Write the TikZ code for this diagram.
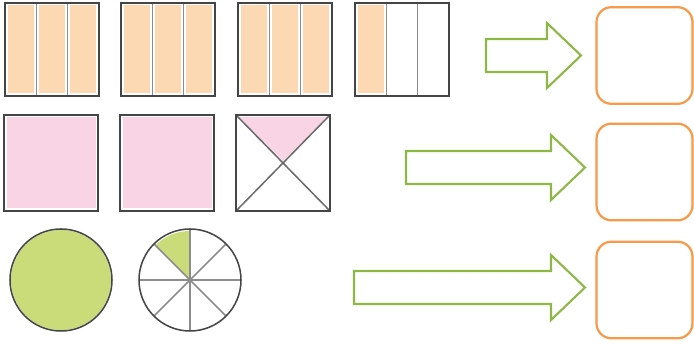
\documentclass[tikz,border=0pt]{standalone}
\usepackage{tikz}

\definecolor{peach}{HTML}{FCD9B2}
\definecolor{pinkfill}{HTML}{F8D4E4}
\definecolor{limefill}{HTML}{CADC7A}
\definecolor{arrowgreen}{HTML}{8DB845}
\definecolor{boxorange}{HTML}{F79A4A}
\definecolor{framegray}{HTML}{454545}
\definecolor{divgray}{HTML}{8C8C8C}

\begin{document}
\begin{tikzpicture}[x=0.03cm,y=-0.03cm,
  outline/.style={draw=framegray,line width=1.9pt},
  divline/.style={draw=divgray,line width=1.3pt},
  blockarrow/.style={draw=arrowgreen,line width=1.8pt,line join=miter},
  answerbox/.style={draw=boxorange,line width=1.9pt,rounded corners=0.45cm,minimum width=2.88cm,minimum height=2.9cm,inner sep=0pt}]
\useasboundingbox (0,0) rectangle (694,345);

% row 1: thirds
\foreach \x/\n in {5/3,121/3,238/3,355/1} {
  \foreach \k in {1,...,\n} {\fill[peach] ({\x+(\k-1)*31.3+2.5},5.5) rectangle ({\x+\k*31.3-2.5},93.5);}
  \draw[divline] ({\x+31.3},3) -- ({\x+31.3},96);
  \draw[divline] ({\x+62.7},3) -- ({\x+62.7},96);
  \draw[outline] (\x,3) rectangle ({\x+94},96);
}

% row 2: squares
\foreach \x in {4,120} {
  \fill[pinkfill] ({\x+2.5},117.5) rectangle ({\x+91.5},208.5);
  \draw[outline] (\x,115) rectangle ({\x+94},211);
}
\fill[pinkfill] (238,117) -- (328,117) -- (283,161) -- cycle;
\draw[divline,draw=framegray!80] (236,115) -- (330,211);
\draw[divline,draw=framegray!80] (330,115) -- (236,211);
\draw[outline] (236,115) rectangle (330,211);

% row 3: circles
\fill[limefill] (61,280) circle (50);
\draw[outline,line width=1.3pt] (61,280) circle (51);
\fill[limefill] (190,280) -- +(225:49) arc (225:270:49) -- cycle;
\foreach \a in {0,45,90,135} {\draw[divline] (190,280) +(\a:51) -- +(\a+180:51);}
\draw[outline,line width=1.3pt] (190,280) circle (51);

% answer boxes
\node[answerbox] (ans1) at (644.5,55.5) {};
\node[answerbox] (ans2) at (644.5,172) {};
\node[answerbox] (ans3) at (644.5,290) {};

% arrows
\foreach \xl/\xh/\xt/\yc in {486/547/581/55.5,406/551/585/167.5,354/551/585/287.5} {
  \draw[blockarrow] (\xl,{\yc-16.5}) -- (\xh,{\yc-16.5}) -- (\xh,{\yc-32.5}) -- (\xt,\yc)
    -- (\xh,{\yc+32.5}) -- (\xh,{\yc+16.5}) -- (\xl,{\yc+16.5}) -- cycle;
}
\end{tikzpicture}
\end{document}
